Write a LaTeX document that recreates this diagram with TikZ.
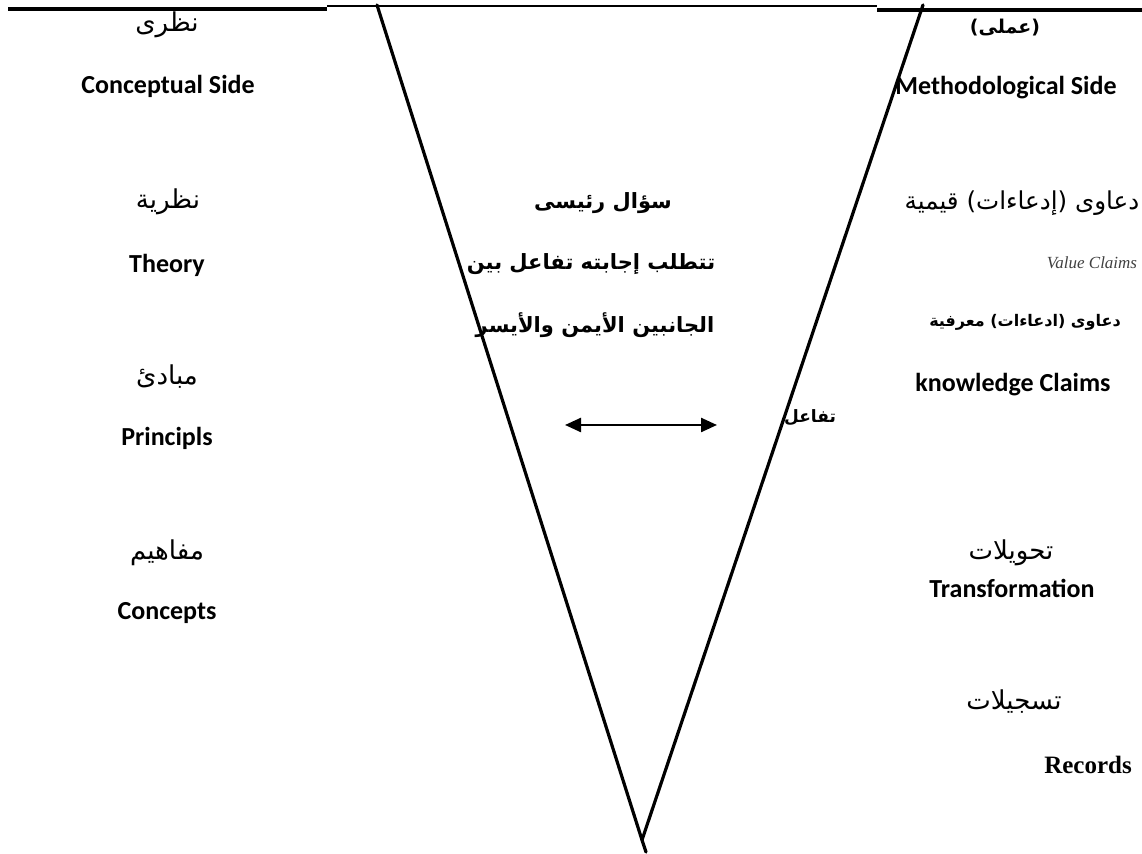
\documentclass[tikz,border=0pt]{standalone}
\usepackage{fontspec}
\setmainfont{Carlito}
\newfontfamily\arfont[Script=Arabic]{DejaVu Sans}
\newfontfamily\tnr{Liberation Serif}
\TeXXeTstate=1
\usetikzlibrary{arrows.meta}
\definecolor{vgray}{HTML}{404040}
\tikzset{
  en/.style={font=\fontsize{13}{15}\selectfont\bfseries, inner sep=0pt},
  ar/.style={font=\fontsize{13}{15}\arfont, inner sep=0pt},
  arb/.style={font=\fontsize{10.5}{13}\arfont\bfseries, inner sep=0pt},
  vline/.style={line width=1.6pt, line cap=round},
  thickrule/.style={line width=2pt},
  thinrule/.style={line width=0.8pt},
}
\begin{document}
\begin{tikzpicture}[x=0.5pt,y=-0.5pt]
\useasboundingbox (0,0) rectangle (1142,854);
% top rules
\coordinate (tl0) at (8,9);
\coordinate (tl1) at (327,9);
\coordinate (tm0) at (327,6);
\coordinate (tm1) at (877,6);
\coordinate (tr0) at (877,10);
\coordinate (tr1) at (1142,10);
\draw[thickrule] (tl0) -- (tl1);
\draw[thinrule] (tm0) -- (tm1);
\draw[thickrule] (tr0) -- (tr1);
% V
\coordinate (vl) at (377,5);
\coordinate (vr) at (923,5);
\coordinate (tip) at (642,840);
\coordinate (tipx) at (646,852);
\draw[vline] (vl) -- (tip) -- (tipx);
\draw[vline] (vr) -- (tip);
% left column
\node[ar]  (n1) at (167,25) {نظرى};
\node[en]  (cs) at (168,86) {Conceptual Side};
\node[ar]  (n2) at (168,202) {نظرية};
\node[en]  (th) at (167,265) {Theory};
\node[ar]  (n3) at (167,377) {مبادئ};
\node[en]  (pr) at (167,438) {Principls};
\node[ar]  (n4) at (167,553) {مفاهيم};
\node[en]  (co) at (167,613) {Concepts};
% middle
\node[arb] (q1) at (603,203) {\beginR سؤال رئيسى\endR};
\node[arb] (q2) at (591,264) {\beginR تتطلب إجابته تفاعل بين\endR};
\node[arb] (q3) at (595,325) {\beginR الجانبين الأيمن والأيسر\endR};
\coordinate (al) at (565,425);
\coordinate (arr) at (717,425);
\draw[line width=1.2pt, {Triangle[length=8pt,width=7pt]}-{Triangle[length=8pt,width=7pt]}] (al) -- (arr);
\node[font=\fontsize{8.5}{11}\arfont\bfseries, inner sep=0pt] (tf) at (810,418) {تفاعل};
% right column
\node[font=\fontsize{9.5}{12}\arfont\bfseries, inner sep=0pt] (r1) at (1005,28) {(عملى)};
\node[en]  (ms) at (1006,88) {Methodological Side};
\node[font=\fontsize{12.3}{15}\arfont, inner sep=0pt] (r2) at (1022,203) {\beginR دعاوى (إدعاءات) قيمية\endR};
\node[font=\fontsize{8.5}{11}\tnr\itshape, text=vgray, inner sep=0pt] (vc) at (1092,263) {Value Claims};
\node[font=\fontsize{8}{10}\arfont\bfseries, inner sep=0pt] (r3) at (1025,322) {\beginR دعاوى (ادعاءات) معرفية\endR};
\node[en]  (kc) at (1013,385) {knowledge Claims};
\node[ar]  (r4) at (1011,553) {تحويلات};
\node[en]  (tr) at (1012,588) {Transformation};
\node[ar]  (r5) at (1014,702) {تسجيلات};
\node[font=\fontsize{12.5}{15}\tnr\bfseries, inner sep=0pt] (rec) at (1088,765) {Records};
\end{tikzpicture}
\end{document}
